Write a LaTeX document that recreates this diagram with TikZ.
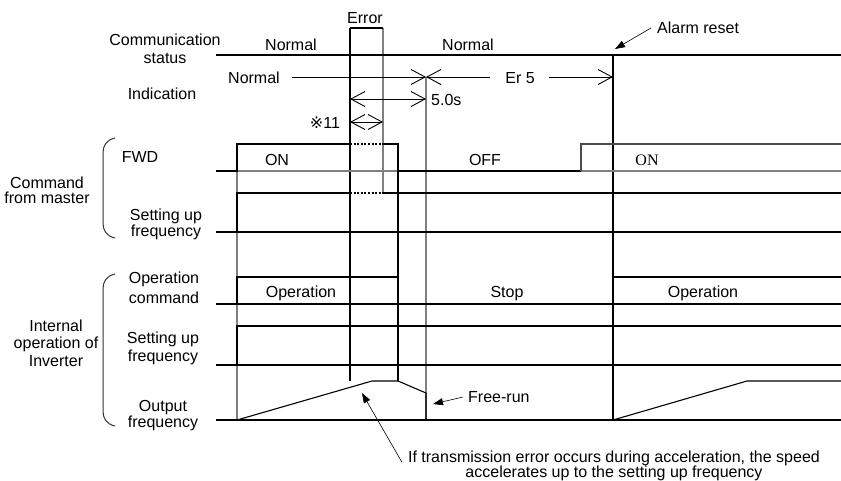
\documentclass[tikz,border=0pt]{standalone}
\usepackage{fontspec}
\setmainfont{Liberation Sans}
\newfontfamily\serifface{Liberation Serif}
\newfontfamily\symface{DejaVu Sans}
\usetikzlibrary{arrows.meta}
\begin{document}
\begin{tikzpicture}[x=1pt,y=-1pt,
  lbl/.style={font=\fontsize{16}{16}\selectfont, inner sep=0pt, anchor=base},
  stack/.style 2 args={font=\fontsize{16}{#2}\selectfont, inner sep=0pt, anchor=north, align=center, #1},
  sig/.style={line width=1.1pt, black},
  gridln/.style={line width=1.1pt, black!50},
  dotln/.style={line width=1.5pt, black, dash pattern=on 2pt off 1.6pt},
  dimarrow/.style={line width=0.9pt, {Straight Barb[length=14pt,width=15pt]}-{Straight Barb[length=14pt,width=15pt]}},
  rtarrow/.style={line width=0.9pt, -{Straight Barb[length=14pt,width=15pt]}},
  ltarrow/.style={line width=0.9pt, {Straight Barb[length=14pt,width=15pt]}-},
  callout/.style={line width=0.6pt, -{Triangle[length=10pt,width=7pt]}},
  brace/.style={line width=1pt, black!80}
]
\fill[white] (0,0) rectangle (841,480);
\useasboundingbox (0,0) rectangle (841,480);

% ---- labels ----
\node[lbl] (err) at (365,23) {Error};
\node[lbl] (n1) at (291,50) {Normal};
\node[lbl] (n2) at (468,50) {Normal};
\node[stack={}{18}] (cs) at (165,33.4) {Communication\\status};
\node[lbl] (ind0) at (254,83) {Normal};
\node[lbl] (ind) at (162,99) {Indication};
\node[lbl] (er5) at (520,83) {Er 5};
\node[lbl,anchor=base west] (t50) at (431,105) {5.0s};
\node[lbl] (r11) at (325,128) {{\symface ※}11};
\node[lbl,anchor=base west] (alarm) at (657,33) {Alarm reset};
\node[lbl] (fwd) at (140,162) {FWD};
\node[lbl] (on1) at (277,165) {ON};
\node[lbl] (off) at (485,165) {OFF};
\node[lbl,font={\serifface\fontsize{16}{16}\selectfont}] (on2) at (647,165) {ON};
\node[stack={}{15}] (cm) at (47,176.4) {Command\\from master};
\node[stack={}{12}] (sf) at (166,208.4) {Setting up\\frequency};
\node[stack={}{20}] (oc) at (164,271.4) {Operation\\command};
\node[lbl] (op1) at (301,297) {Operation};
\node[lbl] (stop) at (507,297) {Stop};
\node[lbl] (op2) at (703,297) {Operation};
\node[stack={}{17.5}] (io) at (56,319.4) {Internal\\operation of\\Inverter};
\node[stack={}{18}] (is) at (163,331.4) {Setting up\\frequency};
\node[stack={}{13}] (of) at (163,400.4) {Output\\frequency};
\node[lbl,anchor=base west] (fr) at (468,402) {Free-run};
\node[stack={}{12.5}] (an) at (614,450.2) {If transmission error occurs during acceleration, the speed\\accelerates up to the setting up frequency};

% ---- braces ----
\draw[brace] (115,138) .. controls (106,140) and (103,146) .. (103,153) -- (103,223) .. controls (103,230) and (106,236) .. (115,238);
\draw[brace] (115,274) .. controls (106,276) and (103,282) .. (103,289) -- (103,411) .. controls (103,418) and (106,424) .. (115,426);

% ---- vertical guide lines ----
\draw[gridln] (237,144) -- (237,420);
\draw[sig] (350,28) -- (350,381);
\draw[gridln] (383,28) -- (383,193);
\draw[sig] (398,144) -- (398,381);
\draw[gridln] (426,77) -- (426,420);
\draw[sig] (613,55) -- (613,420);

% ---- communication status ----
\draw[sig] (216,55) -- (841,55);
\draw[sig] (350,28) -- (383,28);

% ---- indication ----
\draw[rtarrow] (292,77) -- (426,77);
\draw[ltarrow] (426,77) -- (490,77);
\draw[rtarrow] (549,77) -- (613,77);
\draw[dimarrow] (350,99) -- (426,99);
\draw[dimarrow] (350,122) -- (383,122);

% ---- FWD ----
\draw[gridln] (216,171) -- (841,171);
\draw[sig] (216,171) -- (237,171) -- (237,144) -- (350,144);
\draw[dotln] (350,144) -- (383,144);
\draw[sig] (383,144) -- (398,144) -- (398,171) -- (581,171);
\draw[sig,black!70] (581,171) -- (581,144) -- (841,144);

% ---- command setting frequency ----
\draw[sig] (216,232) -- (841,232);
\draw[sig] (237,232) -- (237,193) -- (350,193);
\draw[dotln] (350,193) -- (383,193);
\draw[sig] (383,193) -- (841,193);

% ---- operation command ----
\draw[sig] (216,304) -- (841,304);
\draw[sig] (237,304) -- (237,277) -- (398,277) -- (398,304);
\draw[sig] (613,304) -- (613,277) -- (841,277);

% ---- internal setting frequency ----
\draw[sig] (216,365) -- (841,365);
\draw[sig] (237,365) -- (237,326) -- (841,326);

% ---- output frequency ----
\draw[sig] (216,420) -- (841,420);
\draw[sig] (237,420) -- (372,381) -- (398,381) -- (426,393) -- (426,420);
\draw[sig] (613,420) -- (747,381) -- (841,381);

% ---- callouts ----
\draw[callout] (651,28) -- (615,49);
\draw[callout] (463,397) -- (433,404);
\draw[callout] (an.north west) ++(-6,12) -- (362,393);
\end{tikzpicture}
\end{document}
